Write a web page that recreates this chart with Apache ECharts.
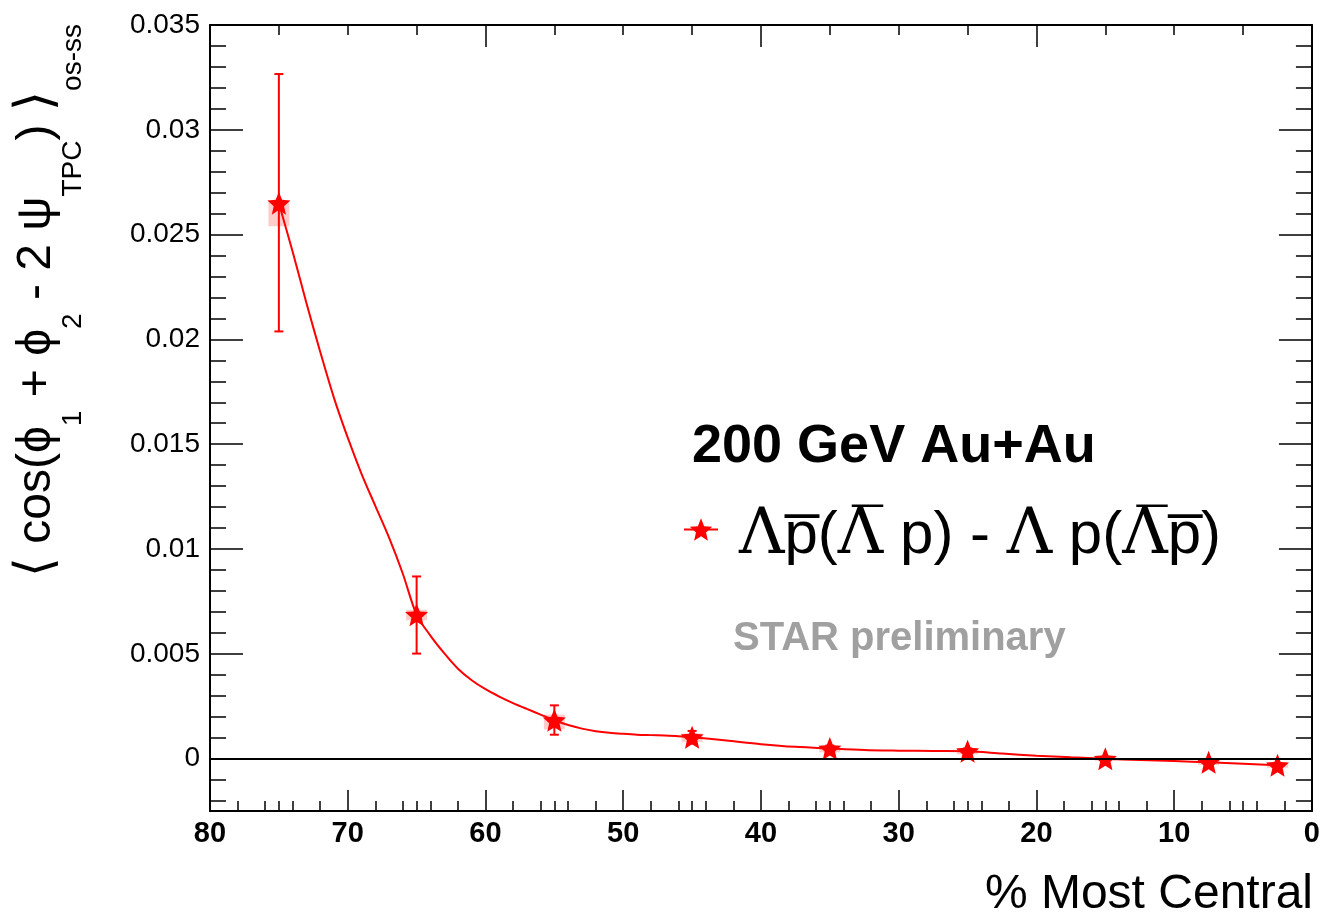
<!DOCTYPE html>
<html><head><meta charset="utf-8">
<script src="https://cdn.jsdelivr.net/npm/echarts@6/dist/echarts.min.js"></script>
<style>html,body{margin:0;padding:0;background:#fff}#c{width:1323px;height:913px}</style>
</head><body><div id="c"></div>
<script>
// ---- data ----
const centrality = [75, 65, 55, 45, 35, 25, 15, 7.5, 2.5];
const values     = [0.02650, 0.00686, 0.00183, 0.00102, 0.00048, 0.00035, -0.00001, -0.00018, -0.00032];
const errLow     = [0.02038, 0.00501, 0.00114, 0.00072, 0.00034, 0.00022, -0.00011, -0.00028, -0.00042];
const errHigh    = [0.03266, 0.00869, 0.00254, 0.00132, 0.00062, 0.00048, 0.00009, -0.00008, -0.00022];
const sysLow     = [0.02540, 0.00660, 0.00140, 0.00080, 0.00030, 0.00020, -0.00010, -0.00030, -0.00044];
const sysHigh    = [0.02660, 0.00710, 0.00210, 0.00120, 0.00060, 0.00050, 0.00010, -0.00004, -0.00020];
// fitted curve as drawn in the picture
const curveX = [75, 74, 73, 72, 71, 70, 69, 68, 67, 66, 65, 64, 63, 62, 61, 60, 59, 58, 57, 56, 55, 54, 53, 52, 51, 50, 49, 48, 47, 46, 45, 42.5, 40, 37.5, 35, 32.5, 30, 27.5, 25, 22.5, 20, 17.5, 15, 12.5, 10, 7.5, 5, 2.5, 2];
const curveY = [0.02650, 0.02418, 0.02174, 0.01941, 0.01721, 0.01531, 0.01359, 0.01206, 0.01054, 0.00882, 0.00686, 0.00587, 0.00503, 0.00429, 0.00374, 0.00331, 0.00296, 0.00265, 0.00237, 0.00210, 0.00183, 0.00160, 0.00143, 0.00131, 0.00123, 0.00118, 0.00114, 0.00112, 0.00110, 0.00107, 0.00102, 0.00086, 0.00069, 0.00056, 0.00048, 0.00041, 0.00038, 0.00036, 0.00035, 0.00024, 0.00014, 0.00006, -0.00001, -0.00007, -0.00012, -0.00018, -0.00025, -0.00032, -0.00034];
// ticks
const xMajorTicks = [0, 10, 20, 30, 40, 50, 60, 70, 80];
const xMinorTicks = [2, 4, 5, 6, 8, 12, 14, 15, 16, 18, 22, 24, 25, 26, 28, 32, 34, 35, 36, 38, 42, 44, 45, 46, 48, 52, 54, 55, 56, 58, 62, 64, 65, 66, 68, 72, 74, 75, 76, 78];
const xTopMajorTicks = [0, 20, 40, 60, 80];
const xTopMinorTicks = [5, 10, 15, 25, 30, 35, 45, 50, 55, 65, 70, 75];
const yMajorTicks = [0, 0.005, 0.01, 0.015, 0.02, 0.025, 0.03, 0.035];
const yMinorTicks = [-0.002, -0.001, 0.001, 0.002, 0.003, 0.004, 0.006, 0.007, 0.008, 0.009, 0.011, 0.012, 0.013, 0.014, 0.016, 0.017, 0.018, 0.019, 0.021, 0.022, 0.023, 0.024, 0.026, 0.027, 0.028, 0.029, 0.031, 0.032, 0.033, 0.034];
const yMin = -0.0025, yMax = 0.035, xMin = 0, xMax = 80;

const seriesName = 'pairs';
const legendText = '{g|}{L|Λ}{t|p\u0305(}{L|Λ\u0305}{t| p) - }{L|Λ}{t| p(}{L|Λ\u0305}{t|p\u0305)}';
const yTitle = '{b|⟨}{m| cos(ϕ}{s|1}{m| + ϕ}{s|2}{m| - 2 ψ}{s|TPC}{m|) }{b|⟩}{s|os-ss}';

// star symbol
function starPath(inner) {
  const pts = [];
  for (let k = 0; k < 10; k++) {
    const r = k % 2 === 0 ? 50 : 50 * inner;
    const a = -Math.PI / 2 + k * Math.PI / 5;
    pts.push((50 + r * Math.cos(a)).toFixed(2) + ',' + (50 + r * Math.sin(a)).toFixed(2));
  }
  return 'path://M' + pts.join(' L') + ' Z';
}
const STAR = starPath(0.45);
const RED = '#ff0000';
const FONT = 'Liberation Sans';

function xAxisBase(extra) {
  return Object.assign({
    type: 'value', min: xMin, max: xMax, inverse: true, gridIndex: 0,
    axisLine: { show: false, onZero: false },
    axisTick: { show: false }, axisLabel: { show: false },
    splitLine: { show: false }, minorTick: { show: false }
  }, extra);
}
function yAxisBase(extra) {
  return Object.assign({
    type: 'value', min: yMin, max: yMax, gridIndex: 0,
    axisLine: { show: false, onZero: false },
    axisTick: { show: false }, axisLabel: { show: false },
    splitLine: { show: false }, minorTick: { show: false }
  }, extra);
}
const tickLine = { color: '#000', width: 1.5 };

const chart = echarts.init(document.getElementById('c'), null, { renderer: 'canvas' });
chart.setOption({
  animation: false,
  backgroundColor: '#fff',
  grid: { left: 210, right: 10, top: 25, bottom: 102, containLabel: false },
  xAxis: [
    xAxisBase({ position: 'bottom',
      axisLine: { show: true, onZero: false, lineStyle: { color: '#000', width: 2 } },
      axisTick: { show: true, inside: true, length: 21, customValues: xMajorTicks, lineStyle: tickLine },
      axisLabel: { show: true, customValues: xMajorTicks, color: '#000', fontFamily: FONT, fontWeight: 'bold', fontSize: 29, margin: 8 } }),
    xAxisBase({ position: 'bottom',
      axisTick: { show: true, inside: true, length: 10, customValues: xMinorTicks, lineStyle: tickLine } }),
    xAxisBase({ position: 'top',
      axisLine: { show: true, onZero: false, lineStyle: { color: '#000', width: 2 } },
      axisTick: { show: true, inside: true, length: 22, customValues: xTopMajorTicks, lineStyle: tickLine } }),
    xAxisBase({ position: 'top',
      axisTick: { show: true, inside: true, length: 10, customValues: xTopMinorTicks, lineStyle: tickLine } })
  ],
  yAxis: [
    yAxisBase({ position: 'left',
      axisLine: { show: true, onZero: false, lineStyle: { color: '#000', width: 2 } },
      axisTick: { show: true, inside: true, length: 33, customValues: yMajorTicks, lineStyle: tickLine },
      axisLabel: { show: true, customValues: yMajorTicks, color: '#000', fontFamily: FONT, fontSize: 28, margin: 10 } }),
    yAxisBase({ position: 'left',
      axisTick: { show: true, inside: true, length: 16, customValues: yMinorTicks, lineStyle: tickLine } }),
    yAxisBase({ position: 'right',
      axisLine: { show: true, onZero: false, lineStyle: { color: '#000', width: 2 } },
      axisTick: { show: true, inside: true, length: 33, customValues: yMajorTicks, lineStyle: tickLine } }),
    yAxisBase({ position: 'right',
      axisTick: { show: true, inside: true, length: 16, customValues: yMinorTicks, lineStyle: tickLine } })
  ],
  legend: {
    data: [seriesName], left: 683, top: 491, padding: 0,
    itemWidth: 34, itemHeight: 28,
    formatter: () => legendText,
    lineStyle: { color: RED, width: 2, opacity: 1 },
    itemStyle: { color: RED, opacity: 1 },
    textStyle: {
      color: '#000',
      rich: {
        g: { width: 16 },
        L: { fontFamily: 'DejaVu Serif', fontSize: 63, lineHeight: 70, padding: [14, 0, 0, 0], color: '#000' },
        t: { fontFamily: FONT, fontSize: 60, lineHeight: 70, padding: [14, 0, 0, 0], color: '#000' }
      }
    }
  },
  graphic: [
    { type: 'text', x: 692, y: 447, style: { text: '200 GeV Au+Au', fontFamily: FONT, fontWeight: 'bold', fontSize: 54, fill: '#000', align: 'left', verticalAlign: 'middle' } },
    { type: 'text', x: 733, y: 639, style: { text: 'STAR preliminary', fontFamily: FONT, fontWeight: 'bold', fontSize: 40, fill: '#a0a0a0', align: 'left', verticalAlign: 'middle' } },
    { type: 'text', x: 1313, y: 895, style: { text: '% Most Central', fontFamily: FONT, fontSize: 48, fill: '#000', align: 'right', verticalAlign: 'middle' } },
    { type: 'text', x: 37, y: 24, rotation: Math.PI / 2, style: {
        text: yTitle, align: 'right', verticalAlign: 'middle', fill: '#000',
        rich: {
          m: { fontFamily: FONT, fontSize: 48, lineHeight: 58, fill: '#000' },
          b: { fontFamily: 'DejaVu Sans', fontSize: 52, lineHeight: 58, fill: '#000' },
          s: { fontFamily: FONT, fontSize: 28, lineHeight: 34, padding: [72, 0, 0, 0], fill: '#000' }
        } } }
  ],
  series: [
    {
      name: 'sys', type: 'custom', xAxisIndex: 0, yAxisIndex: 0, z: 1, silent: true,
      data: centrality.map((c, i) => [c, sysLow[i], sysHigh[i]]),
      encode: { x: 0, y: [1, 2] },
      renderItem(params, api) {
        const x = api.value(0);
        const lo = api.coord([x, api.value(1)]);
        const hi = api.coord([x, api.value(2)]);
        const hw = Math.abs(api.size([0.76, 0])[0]);
        return { type: 'rect', shape: { x: lo[0] - hw, y: hi[1], width: 2 * hw, height: lo[1] - hi[1] },
                 style: { fill: 'rgba(255,0,0,0.2)' } };
      }
    },
    {
      name: 'fit', type: 'line', xAxisIndex: 0, yAxisIndex: 0, z: 2, silent: true,
      data: curveX.map((x, i) => [x, curveY[i]]),
      showSymbol: false, symbol: 'none', smooth: 0.3,
      lineStyle: { color: RED, width: 2 }
    },
    {
      name: 'err', type: 'custom', xAxisIndex: 0, yAxisIndex: 0, z: 3, silent: true,
      data: centrality.map((c, i) => [c, errLow[i], errHigh[i]]),
      encode: { x: 0, y: [1, 2] },
      renderItem(params, api) {
        const x = api.value(0);
        const lo = api.coord([x, api.value(1)]);
        const hi = api.coord([x, api.value(2)]);
        const w = 4.5;
        const st = { stroke: RED, lineWidth: 2 };
        return { type: 'group', children: [
          { type: 'line', shape: { x1: lo[0], y1: lo[1], x2: hi[0], y2: hi[1] }, style: st },
          { type: 'line', shape: { x1: lo[0] - w, y1: lo[1], x2: lo[0] + w, y2: lo[1] }, style: st },
          { type: 'line', shape: { x1: hi[0] - w, y1: hi[1], x2: hi[0] + w, y2: hi[1] }, style: st }
        ] };
      }
    },
    {
      name: seriesName, type: 'line', xAxisIndex: 0, yAxisIndex: 0, z: 4,
      data: centrality.map((c, i) => [c, values[i]]),
      symbol: STAR, symbolSize: 23, showSymbol: true,
      itemStyle: { color: RED },
      lineStyle: { width: 0, opacity: 0, color: RED },
      markLine: {
        silent: true, symbol: 'none', label: { show: false },
        lineStyle: { color: '#000', width: 2, type: 'solid' },
        data: [{ yAxis: 0 }]
      }
    }
  ]
});
</script></body></html>
